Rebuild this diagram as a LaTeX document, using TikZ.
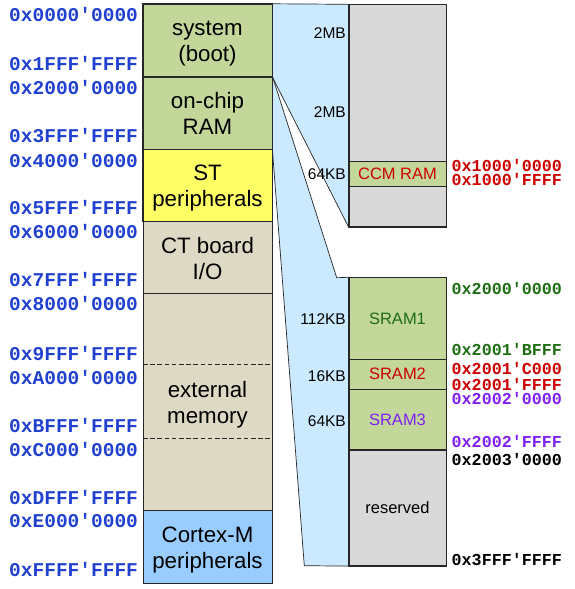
\documentclass[tikz,border=0pt]{standalone}
\usepackage{fontspec}
\setmainfont{Liberation Sans}
\newfontfamily\addrfont{Liberation Mono}
\definecolor{addrblue}{RGB}{32,64,208}
\definecolor{grtext}{RGB}{30,110,20}
\definecolor{rdtext}{RGB}{204,0,0}
\definecolor{pptext}{RGB}{128,32,240}
\definecolor{grfill}{RGB}{196,215,155}
\definecolor{ylfill}{RGB}{255,255,102}
\definecolor{tnfill}{RGB}{221,217,196}
\definecolor{cmfill}{RGB}{153,204,255}
\definecolor{lbfill}{RGB}{204,234,255}
\definecolor{gyfill}{RGB}{217,217,217}
\newcommand{\lstr}{\vphantom{Ay}}
\begin{document}
\begin{tikzpicture}[x=1pt,y=-1pt,
  outl/.style={draw=black!85,line width=0.8pt},
  lblock/.style={outl,inner sep=0pt,minimum width=129pt,align=center,
    font=\fontsize{22.3}{26}\selectfont},
  ltext/.style={inner sep=0pt,align=center,yshift=-3pt,
    font=\fontsize{22.3}{26}\selectfont},
  rblock/.style={outl,inner sep=0pt,minimum width=97pt,
    font=\fontsize{16.5}{19}\selectfont},
  laddr/.style={anchor=base west,inner sep=0pt,text=addrblue,
    font=\fontsize{19.5}{20}\addrfont\bfseries},
  raddr/.style={anchor=base west,inner sep=0pt,
    font=\fontsize{16.7}{17}\addrfont\bfseries},
  sizelbl/.style={anchor=base east,inner sep=0pt,
    font=\fontsize{15.5}{16}\selectfont},
  wedge/.style={fill=lbfill,draw=black!85,line width=0.7pt,line join=round}]
\useasboundingbox (0,0) rectangle (574,589);

% left column blocks
\node[lblock,fill=grfill,minimum height=72.5pt] (sys) at (207.5,40.45) {};
\node[lblock,fill=grfill,minimum height=72.6pt] (ram) at (207.5,113) {};
\node[lblock,fill=ylfill,minimum height=72.1pt] (st) at (207.5,185.35) {};
\node[lblock,fill=tnfill,minimum height=72.1pt] (ct) at (207.5,257.45) {};
\node[lblock,fill=tnfill,minimum height=216.8pt] (ext) at (207.5,401.9) {};
\node[lblock,fill=cmfill,minimum height=73pt] (cm) at (207.5,546.8) {};
\node[ltext] (tsys) at (sys.center) {\lstr system\\\lstr(boot)};
\node[ltext] (tram) at (ram.center) {\lstr on-chip\\\lstr RAM};
\node[ltext] (tst) at (st.center) {\lstr ST\\\lstr peripherals};
\node[ltext] (tct) at (ct.center) {\lstr CT board\\\lstr I/O};
\node[ltext] (text) at (ext.center) {\lstr external\\\lstr memory};
\node[ltext] (tcm) at (cm.center) {\lstr Cortex-M\\\lstr peripherals};

% dashed separators inside external memory
\coordinate (d1l) at (143,364.2);
\coordinate (d1r) at (272,364.2);
\coordinate (d2l) at (143,438.3);
\coordinate (d2r) at (272,438.3);
\draw[black!85,line width=0.8pt,dash pattern=on 4.5pt off 2.7pt] (d1l) -- (d1r);
\draw[black!85,line width=0.8pt,dash pattern=on 4.5pt off 2.7pt] (d2l) -- (d2r);

% right column blocks
\node[rblock,fill=gyfill,minimum height=222pt] (rc) at (397.5,115.7) {};
\node[rblock,fill=grfill,minimum height=24.7pt,text=rdtext] (ccm) at (397.5,173.65) {CCM RAM};
\node[rblock,fill=grfill,minimum height=81.6pt,text=grtext] (sram1) at (397.5,318.5) {SRAM1};
\node[rblock,fill=grfill,minimum height=30pt,text=rdtext] (sram2) at (397.5,374.3) {SRAM2};
\node[rblock,fill=grfill,minimum height=60.7pt,text=pptext] (sram3) at (397.5,419.65) {SRAM3};
\node[rblock,fill=gyfill,minimum height=115.7pt] (res) at (397.5,507.85) {reserved};

% zoom wedges
\coordinate (kink) at (336.7,277.7);
\coordinate (wbot) at (304.3,565.7);
\draw[wedge] (sys.north east) -- (rc.north west) -- (rc.south west) -- (sys.south east) -- cycle;
\draw[wedge] (ram.north east) -- (kink) -- (sram1.north west) -- (res.south west) -- (wbot) -- (ram.south east) -- cycle;

% redraw borders over the wedges
\draw[outl] (sys.north west) rectangle (sys.south east);
\draw[outl] (ram.north west) rectangle (ram.south east);
\draw[outl] (st.north west) rectangle (st.south east);
\draw[outl] (rc.north west) rectangle (rc.south east);
\draw[outl] (ccm.north west) rectangle (ccm.south east);
\draw[outl] (sram1.north west) rectangle (sram1.south east);
\draw[outl] (sram2.north west) rectangle (sram2.south east);
\draw[outl] (sram3.north west) rectangle (sram3.south east);
\draw[outl] (res.north west) rectangle (res.south east);

% size labels
\node[sizelbl] (s1) at (346,38.8) {2MB};
\node[sizelbl] (s2) at (346,117.2) {2MB};
\node[sizelbl] (s3) at (346,179.5) {64KB};
\node[sizelbl] (s4) at (346,324.8) {112KB};
\node[sizelbl] (s5) at (346,381.5) {16KB};
\node[sizelbl] (s6) at (346,426.5) {64KB};

% left addresses
\node[laddr] (a0) at (9,21.5) {0x0000'0000};
\node[laddr] (a1) at (9,70.8) {0x1FFF'FFFF};
\node[laddr] (a2) at (9,94.1) {0x2000'0000};
\node[laddr] (a3) at (9,142.5) {0x3FFF'FFFF};
\node[laddr] (a4) at (9,167.5) {0x4000'0000};
\node[laddr] (a5) at (9,214.8) {0x5FFF'FFFF};
\node[laddr] (a6) at (9,238.8) {0x6000'0000};
\node[laddr] (a7) at (9,286.8) {0x7FFF'FFFF};
\node[laddr] (a8) at (9,310.8) {0x8000'0000};
\node[laddr] (a9) at (9,360.8) {0x9FFF'FFFF};
\node[laddr] (a10) at (9,384.1) {0xA000'0000};
\node[laddr] (a11) at (9,432.5) {0xBFFF'FFFF};
\node[laddr] (a12) at (9,456.5) {0xC000'0000};
\node[laddr] (a13) at (9,504.1) {0xDFFF'FFFF};
\node[laddr] (a14) at (9,527.5) {0xE000'0000};
\node[laddr] (a15) at (9,576.8) {0xFFFF'FFFF};

% right addresses
\node[raddr,text=rdtext] (r0) at (451.5,171.7) {0x1000'0000};
\node[raddr,text=rdtext] (r1) at (451.5,185.2) {0x1000'FFFF};
\node[raddr,text=grtext] (r2) at (451.5,294) {0x2000'0000};
\node[raddr,text=grtext] (r3) at (451.5,355) {0x2001'BFFF};
\node[raddr,text=rdtext] (r4) at (451.5,374.3) {0x2001'C000};
\node[raddr,text=rdtext] (r5) at (451.5,390) {0x2001'FFFF};
\node[raddr,text=pptext] (r6) at (451.5,404.3) {0x2002'0000};
\node[raddr,text=pptext] (r7) at (451.5,447.7) {0x2002'FFFF};
\node[raddr,text=black] (r8) at (451.5,465) {0x2003'0000};
\node[raddr,text=black] (r9) at (451.5,565) {0x3FFF'FFFF};
\end{tikzpicture}
\end{document}
